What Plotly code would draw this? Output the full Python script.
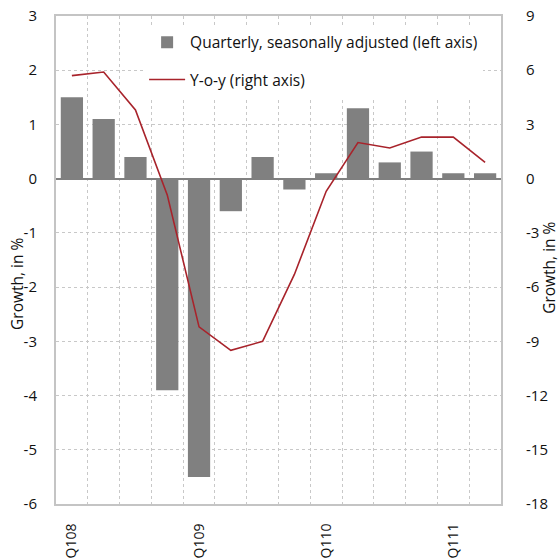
import plotly.graph_objects as go

quarters = ["Q108", "Q208", "Q308", "Q408", "Q109", "Q209", "Q309", "Q409",
            "Q110", "Q210", "Q310", "Q410", "Q111", "Q211"]
tick_labels = ["Q108", "", "", "", "Q109", "", "", "", "Q110", "", "", "", "Q111", ""]
qoq = [1.5, 1.1, 0.4, -3.9, -5.5, -0.6, 0.4, -0.2, 0.1, 1.3, 0.3, 0.5, 0.1, 0.1]
yoy = [5.7, 5.9, 3.8, -0.9, -8.2, -9.5, -9.0, -5.3, -0.7, 2.0, 1.7, 2.3, 2.3, 0.9]
left_ticks = [3, 2, 1, 0, -1, -2, -3, -4, -5, -6]
left_tick_text = ["3", "2", "1", "0", "-1", "-2", "-3", "-4", "-5", "-6"]
right_ticks = [9, 6, 3, 0, -3, -6, -9, -12, -15, -18]
right_tick_text = ["9", "6", "3", "0", "-3", "-6", "-9", "-12", "-15", "-18"]

FONT = "Open Sans"
grid = "#c8c8c8"
frame = "#c4c4c4"

fig = go.Figure()
fig.add_trace(go.Bar(
    x=quarters, y=qoq, name="Quarterly, seasonally adjusted (left axis)",
    marker=dict(color="#808080", line=dict(width=0)), legendgroup="a", yaxis="y",
))
fig.add_trace(go.Scatter(
    x=quarters, y=yoy, name="Y-o-y (right axis)", mode="lines",
    line=dict(color="#a8232b", width=1.6), legendgroup="b", yaxis="y2",
))

fig.update_layout(
    width=559, height=560,
    margin=dict(l=56, r=58, t=16, b=56, autoexpand=False),
    paper_bgcolor="white", plot_bgcolor="white",
    font=dict(family=FONT, size=14, color="#111111"),
    bargap=0.3,
    showlegend=True,
    legend=dict(x=0.198, y=0.98, xanchor="left", yanchor="top",
                bgcolor="white", borderwidth=0, font=dict(size=15.5, family=FONT),
                itemwidth=36, tracegroupgap=14, traceorder="grouped"),
    xaxis=dict(
        type="category", tickvals=quarters, ticktext=tick_labels,
        tickson="boundaries", tickangle=-90, ticks="", automargin=False,
        showgrid=True, gridcolor=grid, griddash="dot", gridwidth=1,
        showline=True, linecolor=frame, linewidth=2, mirror=True,
        ticklabelstandoff=12, tickfont=dict(size=14),
    ),
    yaxis=dict(
        range=[-6, 3], tickvals=left_ticks, ticktext=left_tick_text, automargin=False,
        showgrid=True, gridcolor=grid, griddash="dot", gridwidth=1,
        zeroline=True, zerolinecolor="#808080", zerolinewidth=2,
        showline=True, linecolor=frame, linewidth=2, mirror=True,
        ticks="", ticklabelstandoff=14, tickfont=dict(size=15),
    ),
    yaxis2=dict(
        range=[-18, 9], tickvals=right_ticks, ticktext=right_tick_text,
        overlaying="y", side="right", automargin=False,
        showgrid=False, zeroline=False, showline=False,
        ticks="", ticklabelstandoff=24, tickfont=dict(size=15),
    ),
    annotations=[
        dict(text="Growth, in %", xref="paper", yref="paper", x=-0.0876, y=0.451,
             textangle=-90, showarrow=False, font=dict(size=15.5, family=FONT),
             xanchor="center", yanchor="middle"),
        dict(text="Growth, in %", xref="paper", yref="paper", x=1.108, y=0.484,
             textangle=-90, showarrow=False, font=dict(size=15.5, family=FONT),
             xanchor="center", yanchor="middle"),
    ],
)

fig.write_html(
    "out.html",
    config={"displayModeBar": False},
    post_script="document.body.style.margin='0px';document.body.style.overflow='hidden';",
)
